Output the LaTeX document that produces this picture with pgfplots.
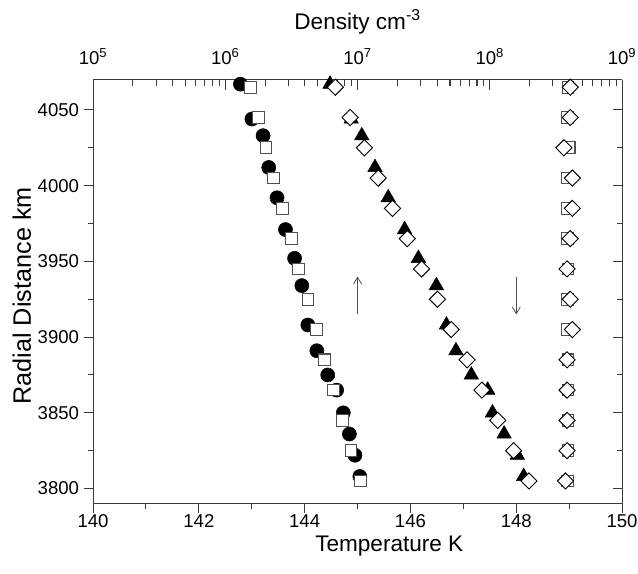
\documentclass[border=0pt]{standalone}
\usepackage{pgfplots}
\pgfplotsset{compat=1.18}
\usepackage{fontspec}
\setmainfont{Liberation Sans}
\usetikzlibrary{arrows.meta}

\definecolor{axgray}{HTML}{3A3A3A}
\definecolor{sqgray}{HTML}{505050}
\definecolor{arrgray}{HTML}{505050}

\pgfplotsset{
  common/.style={
    width=398.6pt, height=319.5pt, scale only axis,
    ymin=3790, ymax=4070,
    axis line style={axgray, line width=0.8pt, -},
    every tick/.style={axgray, line width=0.8pt},
    tick label style={font=\fontsize{14}{17}\selectfont},
    label style={font=\fontsize{17}{20}\selectfont},
    /pgf/number format/assume math mode=true,
    /pgf/number format/1000 sep={},
    clip=false,
  },
  circ/.style={only marks, mark=*, mark size=5.3pt, mark options={draw=black, fill=black}},
  sq/.style={only marks, mark=square*, mark size=4.4pt, mark options={draw=sqgray, fill=white, line width=0.8pt}},
  tri/.style={only marks, mark=triangle*, mark size=6.3pt, mark options={draw=black, fill=black}},
  dia/.style={only marks, mark=square*, mark size=4.3pt, mark options={rotate=45, draw=black, fill=white, line width=0.7pt}},
}

\begin{document}
\begin{tikzpicture}
\useasboundingbox (-70.1pt,-52.5pt) rectangle (410.6pt,379.5pt);

% density, top axis
\begin{axis}[common,
  xmode=log, xmin=1e5, xmax=1e9,
  axis x line*=top, hide y axis,
  tick align=inside,
  major tick length=7.5pt, minor tick length=5pt,
  xtick={1e5,1e6,1e7,1e8,1e9},
  xticklabels={10\textsuperscript{5},10\textsuperscript{6},10\textsuperscript{7},10\textsuperscript{8},10\textsuperscript{9}},
  xticklabel style={yshift=7.5pt},
  xlabel={Density cm\textsuperscript{-3}},
  xlabel style={at={(rel axis cs:0.5,1)}, anchor=center, yshift=43.5pt},
]
\addplot[circ] table {
x y
1.30e6 4067
1.59e6 4044
1.93e6 4033
2.13e6 4012
2.46e6 3992
2.85e6 3971
3.34e6 3952
3.79e6 3934
4.21e6 3908
4.92e6 3891
5.95e6 3875
6.95e6 3865
7.80e6 3850
8.67e6 3836
9.56e6 3822
1.04e7 3808
};
\addplot[sq] table {
x y
1.55e6 4065
1.79e6 4045
2.03e6 4025
2.32e6 4005
2.71e6 3985
3.15e6 3965
3.58e6 3945
4.21e6 3925
4.87e6 3905
5.61e6 3885
6.56e6 3865
7.67e6 3845
8.91e6 3825
1.05e7 3805
};
\addplot[sq] table {
x y
3.90e8 4065
3.86e8 4045
3.98e8 4025
3.83e8 4005
3.85e8 3985
3.86e8 3965
3.90e8 3945
3.88e8 3925
3.85e8 3905
3.90e8 3885
3.90e8 3865
3.90e8 3845
3.90e8 3825
3.88e8 3805
};
\end{axis}

% temperature, bottom axis
\begin{axis}[common,
  xmin=140, xmax=150,
  axis x line*=bottom, axis y line*=left,
  tick align=outside,
  major tick length=7pt, minor tick length=4pt,
  xtick={140,142,...,150}, minor xtick={141,143,...,149},
  ytick={3800,3850,...,4050}, minor ytick={3825,3875,...,4025},
  xticklabel style={yshift=2.5pt},
  xlabel={Temperature K}, ylabel={Radial Distance km},
  xlabel style={at={(rel axis cs:0.56,0)}, anchor=center, yshift=-32.3pt},
  ylabel style={at={(rel axis cs:0,0.49)}, anchor=center, yshift=53.6pt, font=\fontsize{19}{22}\selectfont},
]
\addplot[tri] table {
x y
144.48 4067
144.88 4044
145.08 4033
145.33 4012
145.58 3992
145.89 3971
146.15 3952
146.49 3934
146.68 3908
146.86 3891
147.15 3875
147.46 3865
147.55 3850
147.77 3836
148.02 3822
148.14 3808
};
\addplot[dia] table {
x y
144.58 4065
144.86 4045
145.13 4025
145.39 4005
145.66 3985
145.94 3965
146.21 3945
146.51 3925
146.77 3905
147.07 3885
147.35 3865
147.65 3845
147.95 3825
148.24 3805
};
\addplot[dia] table {
x y
149.02 4065
149.02 4045
148.90 4025
149.06 4005
149.06 3985
149.02 3965
148.96 3945
149.02 3925
149.06 3905
148.96 3885
148.96 3865
148.96 3845
148.96 3825
148.93 3805
};
\draw[arrgray, line width=0.6pt, -{Straight Barb[length=5pt,width=6pt]}] (axis cs:145,3915) -- (axis cs:145,3940);
\draw[arrgray, line width=0.6pt, -{Straight Barb[length=5pt,width=6pt]}] (axis cs:148,3940) -- (axis cs:148,3915);
\end{axis}

% right-hand ticks
\begin{axis}[common,
  xmin=0, xmax=1,
  hide x axis, axis y line*=right,
  tick align=inside,
  major tick length=7pt, minor tick length=3.5pt,
  ytick={3800,3850,...,4050}, minor ytick={3825,3875,...,4025},
  yticklabels={},
]
\end{axis}
\end{tikzpicture}
\end{document}
